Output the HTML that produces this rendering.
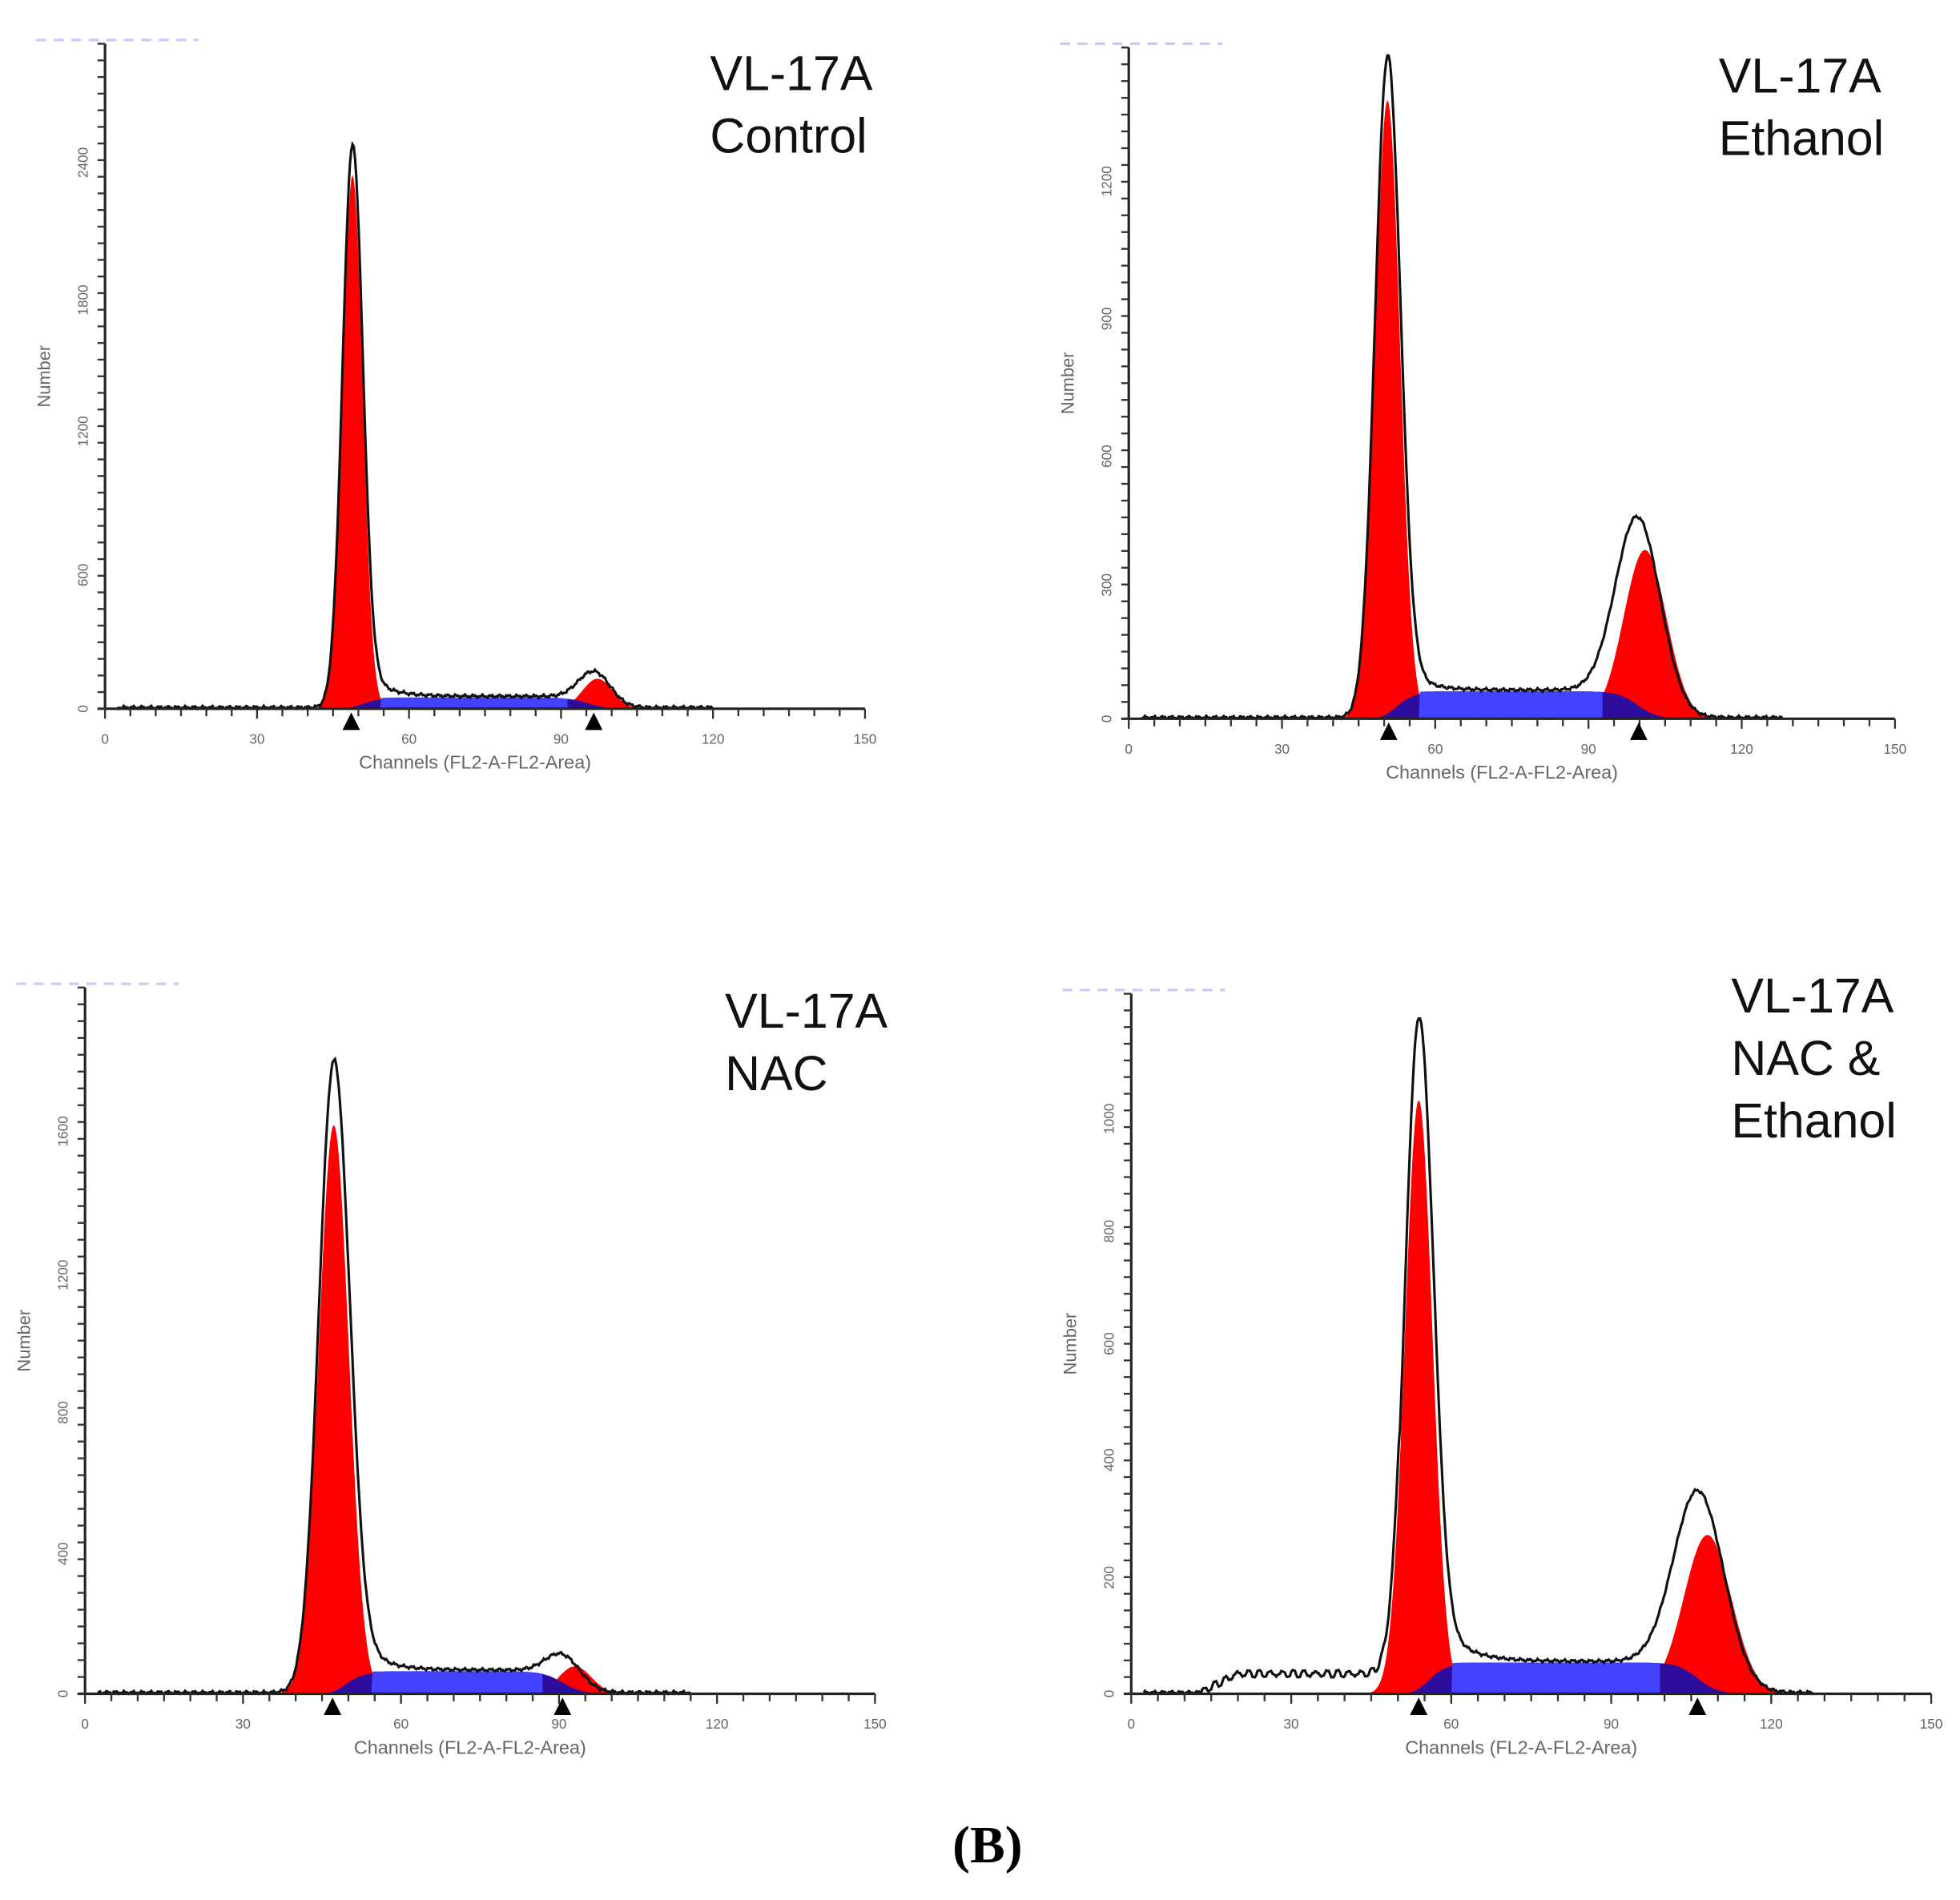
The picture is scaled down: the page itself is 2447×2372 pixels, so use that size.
<!DOCTYPE html>
<html><head><meta charset="utf-8">
<style>
html,body{margin:0;padding:0;background:#fff;}
svg{display:block;}
.tl{font-family:"Liberation Sans",sans-serif;font-size:11px;fill:#666;}
.ti{font-family:"Liberation Sans",sans-serif;font-size:39px;fill:#111;}
</style></head>
<body>
<svg id="s" width="2447" height="2372" viewBox="0 0 1568 1520" xmlns="http://www.w3.org/2000/svg">
<text x="790" y="1490" text-anchor="middle" style="font-family:'Liberation Serif',serif;font-size:42px;font-weight:bold;fill:#000">(B)</text>
<text class="ti" x="568" y="72">VL-17A</text>
<text class="ti" x="568" y="122">Control</text>
<text class="ti" x="1375" y="74">VL-17A</text>
<text class="ti" x="1375" y="124">Ethanol</text>
<text class="ti" x="580" y="822">VL-17A</text>
<text class="ti" x="580" y="872">NAC</text>
<text class="ti" x="1385" y="810">VL-17A</text>
<text class="ti" x="1385" y="860">NAC &amp;</text>
<text class="ti" x="1385" y="910">Ethanol</text>
</svg>
<script>
var NS="http://www.w3.org/2000/svg",S=document.getElementById('s');
function el(t,a,txt){var e=document.createElementNS(NS,t);for(var k in a)e.setAttribute(k,a[k]);if(txt!=null)e.textContent=txt;S.appendChild(e);return e;}
function g(x,c,s){return Math.exp(-0.5*((x-c)/s)*((x-c)/s));}
function sig(x){return 1/(1+Math.exp(-x));}
var P=[
{x0:84,x1:692,top:35,b:567,c1:282,s1:8,h1:427,hb1:446,ta:22,td:16,sa:285,sb:470,hs:9,c2:478,s2:12,h2:24,hb2:26,c2b:476,yl:[["2400",130],["1800",240],["1200",345],["600",460],["0",567]],noise:0,tri:[281,475],end:120},
{x0:903,x1:1516,top:38,b:575,c1:1110,s1:10,h1:495,hb1:520,ta:22,td:16,sa:1112,sb:1310,hs:22,c2:1316,s2:17,h2:135,hb2:150,c2b:1311,yl:[["1200",145],["900",255],["600",365],["300",468],["0",575]],noise:0,tri:[1111,1311],end:128},
{x0:68,x1:700,top:790,b:1355,c1:267,s1:12,h1:455,hb1:500,ta:34,td:18,sa:272,sb:450,hs:18,c2:460,s2:13,h2:22,hb2:22,c2b:452,yl:[["1600",905],["1200",1020],["800",1130],["400",1243],["0",1355]],noise:0,tri:[266,450],end:115},
{x0:905,x1:1545,top:795,b:1355,c1:1135,s1:11,h1:475,hb1:530,ta:40,td:20,sa:1138,sb:1358,hs:25,c2:1366,s2:19,h2:127,hb2:150,c2b:1360,yl:[["1000",895],["800",985],["600",1075],["400",1168],["200",1262],["0",1355]],noise:1,tri:[1135,1358],end:128}
];
P.forEach(function(p){
 var w=(p.x1-p.x0)/150;
 function Sph(x){return p.hs*sig((x-p.sa)/6)*sig((p.sb-x)/8);}
 function red1(x){return p.h1*g(x,p.c1,p.s1);}
 function red2(x){return p.h2*g(x,p.c2,p.s2);}
 function blk(x){var v=p.hb1*g(x,p.c1,p.s1)+p.hb2*g(x,p.c2b,p.s2*1.05)+Sph(x);
  if(x>p.c1)v+=p.ta*Math.exp(-(x-p.c1-p.s1)/p.td)*sig((x-p.c1-p.s1)/3);
  v+=1+0.8*Math.sin(x*0.9)+0.6*Math.sin(x*2.3);
  if(p.noise&&x>960&&x<1120)v+=Math.min(15,(x-960)*0.5)+2.5*Math.sin(x*0.7);
  return Math.max(0,v);}
 function area(f,a,c,fill,op){var d="M"+a+","+p.b;for(var x=a;x<=c;x+=1)d+=" L"+x+","+(p.b-f(x)).toFixed(1);d+=" L"+c+","+p.b+"Z";el('path',{d:d,fill:fill,'fill-opacity':op||1});}
 area(red1,p.c1-5*p.s1,p.c1+5*p.s1,"#ff0000");
 area(red2,p.c2-5*p.s2,p.c2+5*p.s2,"#ff0000");
 area(function(x){return Sph(x)*sig((x-p.sa)/10);},p.sa-30,p.sb+40,"#2e0c9c");
 area(function(x){return Sph(x)-Math.max(red1(x),red2(x))>0?Sph(x):0;},p.c1+2*p.s1,p.c2-2*p.s2,"#4242ff");
 var d="";for(var x=p.x0+10;x<=p.x0+p.end*w;x+=1){d+=(d?" L":"M")+x+","+(p.b-blk(x)).toFixed(1);}
 el('path',{d:d,fill:'none',stroke:'#111','stroke-width':2});
 el('line',{x1:p.x0,y1:p.top,x2:p.x0,y2:p.b,stroke:'#222','stroke-width':2});
 el('line',{x1:p.x0-6,y1:p.b,x2:p.x1,y2:p.b,stroke:'#222','stroke-width':2});
 for(var i=0;i<=30;i++){var X=p.x0+i*5*w;el('line',{x1:X,y1:p.b,x2:X,y2:p.b+(i%6==0?8:6),stroke:'#333','stroke-width':1.5});}
 var n=Math.round((p.b-p.top)/13.3);for(var j=0;j<=n;j++){var Y=p.b-j*(p.b-p.top)/n;el('line',{x1:p.x0-6,y1:Y,x2:p.x0,y2:Y,stroke:'#333','stroke-width':1.5});}
 ["0","30","60","90","120","150"].forEach(function(t,i){el('text',{'class':'tl',x:p.x0+i*30*w,y:p.b+28,'text-anchor':'middle'},t);});
 el('text',{'class':'tl',x:(p.x0+p.x1)/2-8,y:p.b+48,'text-anchor':'middle',style:'font-size:15px'},"Channels (FL2-A-FL2-Area)");
 p.yl.forEach(function(l){el('text',{'class':'tl',transform:'translate('+(p.x0-14)+','+l[1]+') rotate(-90)','text-anchor':'middle'},l[0]);});
 el('text',{'class':'tl',transform:'translate('+(p.x0-44)+','+((p.top+p.b)/2)+') rotate(-90)','text-anchor':'middle',style:'font-size:14px'},"Number");
 p.tri.forEach(function(t){el('path',{d:"M"+(t-7)+","+(p.b+17)+" L"+(t+7)+","+(p.b+17)+" L"+t+","+(p.b+3)+"Z",fill:'#000'});});
 el('line',{x1:p.x0-55,y1:p.top-3,x2:p.x0+75,y2:p.top-3,stroke:'#c8c8ff','stroke-width':2,'stroke-dasharray':'8 6'});
});
</script>
</body></html>
